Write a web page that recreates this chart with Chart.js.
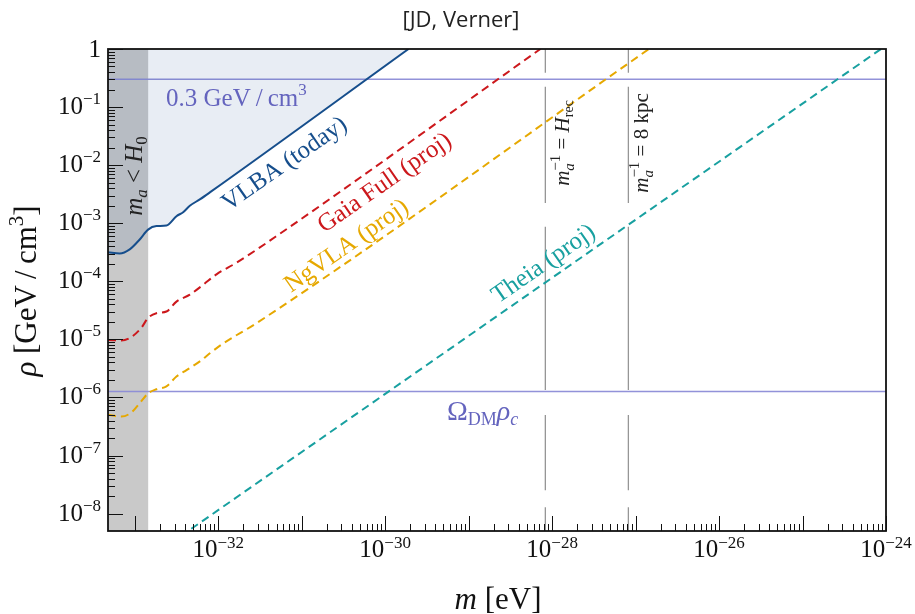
<!DOCTYPE html>
<html><head><meta charset="utf-8">
<script src="https://cdn.jsdelivr.net/npm/chart.js@4.4.1/dist/chart.umd.min.js"></script>
<style>html,body{margin:0;padding:0;background:#fff}#wrap{width:915px;height:614px;position:relative}</style>
</head><body><div id="wrap"><canvas id="c" width="915" height="614"></canvas></div>
<script>
// ---------- data: log10 values ----------
const xRangeExp = [-33.32, -24.0];          // log10(m / eV)
const yRangeExp = [-8.30, 0.0];             // log10(rho / GeV cm^-3)

const vlbaLogM   = [-33.32,-33.18,-33.06,-32.94,-32.84,-32.74,-32.62,-32.50,-32.42,-32.34,-32.22,-32.10,-29.72];
const vlbaLogRho = [-3.50,-3.52,-3.45,-3.28,-3.11,-3.05,-3.04,-2.88,-2.81,-2.70,-2.59,-2.47,0.0];

const gaiaLogM   = [-33.32,-33.16,-33.04,-32.92,-32.84,-32.74,-32.62,-32.50,-32.34,-32.18,-32.02,-31.78,-31.30,-28.14];
const gaiaLogRho = [-5.01,-5.02,-4.96,-4.80,-4.63,-4.55,-4.52,-4.35,-4.23,-4.06,-3.88,-3.68,-3.22,0.0];

const ngvlaLogM   = [-33.32,-33.16,-33.04,-32.94,-32.84,-32.74,-32.62,-32.50,-32.38,-32.22,-32.10,-31.94,-31.54,-26.84];
const ngvlaLogRho = [-6.30,-6.33,-6.26,-6.10,-5.93,-5.86,-5.81,-5.64,-5.53,-5.38,-5.24,-5.07,-4.72,0.0];

const theiaLogM   = [-32.45,-24.0];
const theiaLogRho = [-8.39,0.06];

const localDensity = 0.3;        // GeV/cm^3
const omegaRhoC    = 1.26e-6;    // GeV/cm^3
const hubbleMass   = 1.45e-33;   // m_a = H0
const hrecMass     = 8.3e-29;    // m_a^-1 = H_rec
const kpcMass      = 8.2e-28;    // m_a^-1 = 8 kpc

const xTickExps  = [-33,-32,-31,-30,-29,-28,-27,-26,-25,-24];
const xLabelExps = [-32,-30,-28,-26,-24];
const yTickExps  = [-8,-7,-6,-5,-4,-3,-2,-1,0];
const yLabelExps = [-8,-7,-6,-5,-4,-3,-2,-1,0];

// ---------- styling ----------
const SERIF = '"Liberation Serif","Times New Roman",serif';
const BLUE = 'rgb(22,78,140)', RED = 'rgb(204,24,28)', GOLD = 'rgb(230,168,0)', TEAL = 'rgb(24,160,160)';
const LAV = 'rgba(140,140,215,0.95)', LAVTXT = 'rgb(100,100,190)';
const VDASH = [24, 17, 75, 25, 163, 24, 116, 14, 60];

const xmin = Math.pow(10, xRangeExp[0]), xmax = Math.pow(10, xRangeExp[1]);
const ymin = Math.pow(10, yRangeExp[0]), ymax = Math.pow(10, yRangeExp[1]);
const toPts = (lm, lr) => lm.map((v, i) => ({x: Math.pow(10, v), y: Math.pow(10, lr[i])}));
const sup = n => String(n).replace('-', '\u2212');

function partW(ctx, p) {
  if (p.stack) return Math.max(...p.stack.map(q => partW(ctx, q)));
  ctx.font = p.f; return ctx.measureText(p.t).width + (p.sp || 0);
}
function drawRich(ctx, parts, x, y, align) {
  let W = 0; parts.forEach(p => W += partW(ctx, p));
  let cx = align === 'center' ? x - W / 2 : align === 'right' ? x - W : x;
  ctx.textAlign = 'left'; ctx.textBaseline = 'alphabetic';
  parts.forEach(p => {
    const w = partW(ctx, p);
    const list = p.stack ? p.stack : [p];
    list.forEach(q => { ctx.font = q.f; ctx.fillText(q.t, cx, y + (q.dy || 0)); });
    cx += w;
  });
}
function drawRot(ctx, parts, cx, cy, ang, color, off) {
  ctx.save(); ctx.translate(cx, cy); ctx.rotate(ang); ctx.fillStyle = color;
  drawRich(ctx, parts, 0, off, 'center'); ctx.restore();
}
const F = (s, it) => (it ? 'italic ' : '') + s + 'px ' + SERIF;

const bgPlugin = {
  id: 'bg',
  beforeDraw(chart) {
    const c = chart.ctx; c.save(); c.fillStyle = '#fff'; c.fillRect(0, 0, chart.width, chart.height); c.restore();
  },
  beforeDatasetsDraw(chart) {
    const {ctx, chartArea: a, scales: {x}} = chart;
    ctx.save(); ctx.fillStyle = 'rgb(201,201,201)';
    const xr = x.getPixelForValue(hubbleMass);
    ctx.fillRect(a.left, a.top, xr - a.left, a.bottom - a.top);
    ctx.restore();
  },
  afterDatasetsDraw(chart) {
    const {ctx, chartArea: a, scales: {x, y}} = chart;
    ctx.save();
    // frame
    ctx.strokeStyle = '#111'; ctx.lineWidth = 1.8;
    ctx.strokeRect(a.left, a.top, a.right - a.left, a.bottom - a.top);
    // ticks
    ctx.lineWidth = 1; ctx.strokeStyle = '#111';
    xTickExps.forEach(e => {
      for (let k = 1; k <= 9; k++) {
        const v = k * Math.pow(10, e); if (v < xmin * 0.999 || v > xmax * 1.001) continue;
        const px = Math.round(x.getPixelForValue(v)) + 0.5, L = k === 1 ? 15 : 7;
        ctx.beginPath(); ctx.moveTo(px, a.bottom); ctx.lineTo(px, a.bottom - L); ctx.stroke();
      }
    });
    yTickExps.forEach(e => {
      for (let k = 1; k <= 9; k++) {
        const v = k * Math.pow(10, e); if (v < ymin * 0.999 || v > ymax * 1.001) continue;
        const py = Math.round(y.getPixelForValue(v)) + 0.5, L = k === 1 ? 15 : 7;
        ctx.beginPath(); ctx.moveTo(a.left, py); ctx.lineTo(a.left + L, py); ctx.stroke();
      }
    });
    // tick labels
    ctx.fillStyle = '#111';
    xLabelExps.forEach(e => {
      const px = x.getPixelForValue(Math.pow(10, e));
      drawRich(ctx, [{t: '10', f: F(25)}, {t: sup(e), f: F(17), dy: -9}], px, 557, 'center');
    });
    yLabelExps.forEach(e => {
      const py = y.getPixelForValue(Math.pow(10, e));
      if (e === 0) drawRich(ctx, [{t: '1', f: F(25)}], 101, py + 8, 'right');
      else drawRich(ctx, [{t: '10', f: F(25)}, {t: sup(e), f: F(17), dy: -10}], 101, py + 7, 'right');
    });
    // axis titles
    drawRich(ctx, [{t: 'm', f: F(31, true)}, {t: ' [eV]', f: F(31)}], 498, 609, 'center');
    drawRot(ctx, [{t: '\u03c1', f: F(31, true)}, {t: ' [GeV\u2009/\u2009cm', f: F(31)}, {t: '3', f: F(21), dy: -13}, {t: ']', f: F(31)}],
      26, 291, -Math.PI / 2, '#111', 10);
    // title
    ctx.fillStyle = '#222'; ctx.font = '22px "Open Sans", sans-serif'; ctx.textAlign = 'center'; ctx.textBaseline = 'middle';
    ctx.fillText('[JD, Verner]', 461, 21);
    // slope-1 label angle from the scales
    const dx = x.getPixelForValue(1e-29) - x.getPixelForValue(1e-30);
    const dy = y.getPixelForValue(1e-1) - y.getPixelForValue(1);
    const ang = -Math.atan2(dy, dx);
    drawRot(ctx, [{t: 'VLBA (today)', f: F(25)}], 284, 163, ang, BLUE, 8);
    drawRot(ctx, [{t: 'Gaia Full (proj)', f: F(25)}], 384, 182, ang, RED, 8);
    drawRot(ctx, [{t: 'NgVLA (proj)', f: F(25)}], 346, 245, ang, GOLD, 8);
    drawRot(ctx, [{t: 'Theia (proj)', f: F(25)}], 543, 263, ang, TEAL, 8);
    // horizontal line labels
    ctx.fillStyle = LAVTXT;
    drawRich(ctx, [{t: '0.3 GeV\u2009/\u2009cm', f: F(25)}, {t: '3', f: F(17), dy: -11}], 166, 106, 'left');
    drawRich(ctx, [{t: '\u03a9', f: F(28)}, {t: 'DM', f: F(18), dy: 5}, {t: '\u03c1', f: F(28, true)}, {t: 'c', f: F(18, true), dy: 5}], 447, 420, 'left');
    // vertical labels
    drawRot(ctx, [{t: 'm', f: F(25, true)}, {t: 'a', f: F(17, true), dy: 5}, {t: ' < ', f: F(25)}, {t: 'H', f: F(25, true)}, {t: '0', f: F(17), dy: 5}],
      134, 176, -Math.PI / 2, '#222', 8);
    drawRot(ctx, [{t: 'm', f: F(21, true)}, {stack: [{t: '\u22121', f: F(15), dy: -9}, {t: 'a', f: F(15, true), dy: 5}]}, {t: ' = ', f: F(21)}, {t: 'H', f: F(21, true)}, {t: 'rec', f: F(14), dy: 4}],
      562, 143, -Math.PI / 2, '#222', 7);
    drawRot(ctx, [{t: 'm', f: F(21, true)}, {stack: [{t: '\u22121', f: F(15), dy: -9}, {t: 'a', f: F(15, true), dy: 5}]}, {t: ' = 8 kpc', f: F(21)}],
      641, 143, -Math.PI / 2, '#222', 7);
    ctx.restore();
  }
};

const line = (data, color, extra) => Object.assign({data, borderColor: color, borderWidth: 2, pointRadius: 0, showLine: true, fill: false, cubicInterpolationMode: 'monotone'}, extra || {});

new Chart(document.getElementById('c'), {
  type: 'scatter',
  data: {datasets: [
    line(toPts(theiaLogM, theiaLogRho), TEAL, {borderDash: [8, 5], order: 1}),
    line(toPts(ngvlaLogM, ngvlaLogRho), GOLD, {borderDash: [8, 5], order: 2}),
    line(toPts(gaiaLogM, gaiaLogRho), RED, {borderDash: [8, 5], order: 3}),
    line(toPts(vlbaLogM, vlbaLogRho), BLUE, {order: 4, fill: 'end', backgroundColor: 'rgba(30,80,150,0.1)'}),
    line([{x: xmin, y: localDensity}, {x: xmax, y: localDensity}], LAV, {borderWidth: 1.5, order: 5}),
    line([{x: xmin, y: omegaRhoC}, {x: xmax, y: omegaRhoC}], LAV, {borderWidth: 1.5, order: 6}),
    line([{x: hrecMass, y: ymin}, {x: hrecMass, y: ymax}], 'rgb(150,150,150)', {borderWidth: 1.3, borderDash: VDASH, order: 7}),
    line([{x: kpcMass, y: ymin}, {x: kpcMass, y: ymax}], 'rgb(150,150,150)', {borderWidth: 1.3, borderDash: VDASH, order: 8})
  ]},
  options: {
    responsive: false, animation: false, devicePixelRatio: 1,
    layout: {padding: {left: 108, right: 29, top: 49, bottom: 83}},
    plugins: {legend: {display: false}, tooltip: {enabled: false}},
    scales: {
      x: {type: 'logarithmic', min: xmin, max: xmax, display: false},
      y: {type: 'logarithmic', min: ymin, max: ymax, display: false}
    }
  },
  plugins: [bgPlugin]
});
</script></body></html>
